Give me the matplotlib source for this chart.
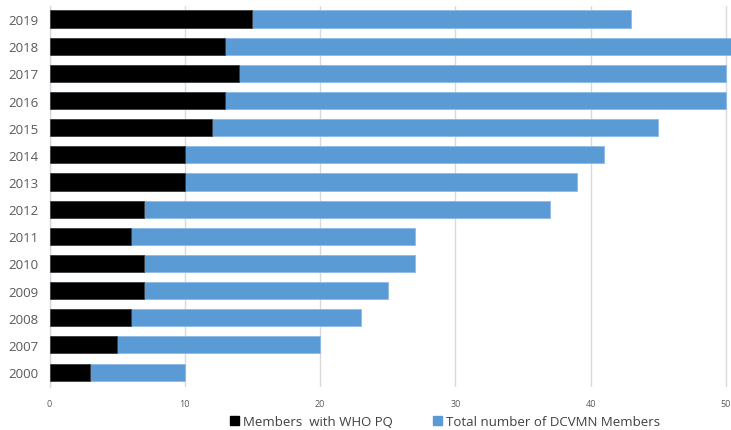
import numpy as np
import matplotlib
matplotlib.use('Agg')
import matplotlib.pyplot as plt
from matplotlib.patches import Patch

# membership figures per year
years = ['2000', '2007', '2008', '2009', '2010', '2011', '2012',
         '2013', '2014', '2015', '2016', '2017', '2018', '2019']
members_pq = [3, 5, 6, 7, 7, 6, 7, 10, 10, 12, 13, 14, 13, 15]
members_total = [10, 20, 23, 25, 27, 27, 37, 39, 41, 45, 50, 50, 51, 43]

BLUE = '#5b9bd5'
TEXT = '#595959'

plt.rcParams['font.family'] = ['Open Sans', 'DejaVu Sans']

fig = plt.figure(figsize=(7.31, 4.31), dpi=100)
ax = fig.add_axes([49.5 / 731, 1 - 388 / 431, 1 - 49.5 / 731, (388 - 7) / 431])

y = np.arange(len(years))
ax.barh(y, members_total, height=0.63, color=BLUE, edgecolor='#8dbbe6',
        linewidth=0.6, zorder=2)
ax.barh(y, members_pq, height=0.63, color='black', edgecolor='#404040',
        linewidth=0.6, zorder=3)

ax.set_xlim(0, (731 - 49.5) / 13.53)
ax.set_ylim(-0.55, len(years) - 1 + 0.48)
ax.set_xticks([0, 10, 20, 30, 40, 50])
ax.set_yticks(y)
ax.set_yticklabels(years)

ax.tick_params(axis='x', length=0, labelsize=6.5, labelcolor=TEXT, pad=9)
ax.tick_params(axis='y', length=0, labelsize=9.5, labelcolor=TEXT, pad=8)
ax.grid(axis='x', color='#d9d9d9', linewidth=1.0, zorder=0)
ax.set_axisbelow(True)

for side in ['top', 'right', 'bottom']:
    ax.spines[side].set_visible(False)
ax.spines['left'].set_color('#d9d9d9')
ax.spines['left'].set_linewidth(1.0)

handles = [Patch(color='black', label='Members  with WHO PQ'),
           Patch(color=BLUE, label='Total number of DCVMN Members')]
fig.legend(handles=handles, loc='center', bbox_to_anchor=(0.609, 0.019),
           ncol=2, frameon=False, fontsize=9.5, labelcolor='#404040',
           handlelength=0.7, handleheight=0.7, handletextpad=0.3,
           columnspacing=3.0)

fig.savefig('out.png', dpi=100)
